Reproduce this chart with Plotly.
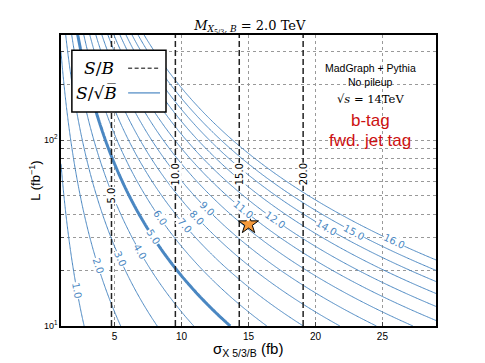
import numpy as np
import plotly.graph_objects as go

# values
sigma_grid = np.linspace(1, 29, 281)            # sigma_X5/3 (fb)
lumi_grid = np.logspace(1, 2.6, 241)            # L (fb^-1)
sig_at_ssb5_l10 = 13.64                         # S/sqrt(B)=5 crosses L=10 fb^-1 here
sig_at_sb5 = 4.77                               # S/B=5 line sits here
ssb_levels = list(range(1, 17))
ssb_thick = 5
sb_levels = [5, 10, 15, 20]
star_sigma = [15.0]
star_lumi = [35.3]

# where the contour labels sit (sigma along each line)
ssb_label_levels = [1, 2, 3, 4, 5, 6, 7, 8, 9, 11, 12, 14, 15, 16]
ssb_label_sigma = [2.19, 3.76, 5.4, 6.89, 7.86, 8.38, 10.24, 11.13, 11.88, 14.6, 16.95, 20.8, 22.9, 25.9]
sb_label_lumi = [50.6, 65.6, 65.6, 65.6]

x_ticks = [5, 10, 15, 20, 25]
y_ticks = [10, 20, 30, 40, 50, 60, 70, 80, 90, 100, 200, 300]
y_text = ["10<sup>1</sup>", "", "", "", "", "", "", "", "", "10<sup>2</sup>", "", ""]

X, Y = np.meshgrid(sigma_grid, lumi_grid)
z_ssb = 5.0 * X / sig_at_ssb5_l10 * np.sqrt(Y / 10.0)
z_sb = 5.0 * X / sig_at_sb5

blue = "#4a87c2"
x_range = [1, 29]
y_range = [1, 2.5645]
plot_w, plot_h = 375, 291

fig = go.Figure()


def ssb(start, end, width):
    return go.Contour(
        x=sigma_grid, y=lumi_grid, z=z_ssb,
        autocontour=False,
        contours=dict(start=start, end=end, size=1, coloring="none", showlabels=False),
        line=dict(color=blue, width=width),
        showscale=False, hoverinfo="skip",
    )


fig.add_trace(ssb(ssb_levels[0], ssb_levels[-1], 1))
fig.add_trace(ssb(ssb_thick, ssb_thick, 3))

fig.add_trace(go.Contour(
    x=sigma_grid, y=lumi_grid, z=z_sb,
    autocontour=False,
    contours=dict(start=sb_levels[0], end=sb_levels[-1], size=5, coloring="none", showlabels=False),
    line=dict(color="#222222", width=1.5, dash="6px,3px"),
    showscale=False, hoverinfo="skip",
))

fig.add_trace(go.Scatter(
    x=star_sigma, y=star_lumi, mode="markers",
    marker=dict(symbol="star", size=15, color="#f59a3c", line=dict(color="black", width=1)),
    showlegend=False, hoverinfo="skip",
))

# contour labels, following the lines
px_per_x = plot_w / (x_range[1] - x_range[0])
px_per_dec = plot_h / (y_range[1] - y_range[0])
for lev, s in zip(ssb_label_levels, ssb_label_sigma):
    L = 10.0 * (lev * sig_at_ssb5_l10 / (5.0 * s)) ** 2
    ang = np.degrees(np.arctan(2 * px_per_dec / (np.log(10) * s * px_per_x)))
    fig.add_annotation(x=s, y=np.log10(L), text=f"{lev:.1f}", showarrow=False,
                       textangle=ang, bgcolor="white", borderpad=0,
                       font=dict(size=10, color=blue, family="DejaVu Sans"))
for lev, L in zip(sb_levels, sb_label_lumi):
    fig.add_annotation(x=sig_at_sb5 * lev / 5.0, y=np.log10(L), text=f"{lev:.1f}", showarrow=False,
                       textangle=-90, bgcolor="white", borderpad=0,
                       font=dict(size=10, color="black", family="DejaVu Sans"))

fig.update_layout(
    width=485, height=363,
    margin=dict(l=61, r=49, t=35, b=37),
    paper_bgcolor="white", plot_bgcolor="white",
    showlegend=False,
    title=dict(text="<i>M</i><sub><i>X</i><sub>5/3</sub><i>, B</i></sub> = 2.0 TeV",
               x=0.515, xanchor="center", y=0.931, yanchor="middle",
               font=dict(family="DejaVu Serif", size=13, color="black")),
)

fig.update_xaxes(
    range=x_range, tickvals=x_ticks, ticks="inside", ticklen=4, automargin=False,
    showgrid=True, gridcolor="#999999", griddash="dot", gridwidth=1,
    showline=True, linecolor="black", linewidth=1.5, mirror=True,
    tickfont=dict(size=10, family="Liberation Sans", color="black"),
    zeroline=False,
)
fig.update_yaxes(
    type="log", range=y_range, tickvals=y_ticks, ticktext=y_text,
    ticks="inside", ticklen=3, automargin=False,
    showgrid=True, gridcolor="#999999", griddash="dot", gridwidth=1,
    showline=True, linecolor="black", linewidth=1.5, mirror=True,
    tickfont=dict(size=9, family="Liberation Sans", color="black"),
    title=dict(text="L (fb<sup>−1</sup>)", standoff=0,
               font=dict(size=13, family="Liberation Sans", color="black")),
)

# x axis title
fig.add_annotation(xref="paper", yref="paper", x=0.499, y=-0.082, showarrow=False,
                   xanchor="center", yanchor="middle", text="σ<sub>X 5/3/B</sub> (fb)",
                   font=dict(size=15, family="Liberation Sans", color="black"))

# legend box
fig.add_shape(type="rect", xref="paper", yref="paper", x0=0.029, x1=0.28, y0=0.735, y1=0.948,
              fillcolor="white", line=dict(color="black", width=1.5), layer="above")
fig.add_shape(type="line", xref="paper", yref="paper", x0=0.179, x1=0.264, y0=0.886, y1=0.886,
              line=dict(color="black", width=1, dash="4px,2.5px"), layer="above")
fig.add_shape(type="line", xref="paper", yref="paper", x0=0.179, x1=0.264, y0=0.801, y1=0.801,
              line=dict(color=blue, width=1.2), layer="above")
fig.add_annotation(xref="paper", yref="paper", x=0.1, y=0.886, showarrow=False,
                   xanchor="center", yanchor="middle",
                   text="<i>S</i>/<i>B</i>", font=dict(family="DejaVu Serif", size=17, color="black"))
fig.add_annotation(xref="paper", yref="paper", x=0.095, y=0.801, showarrow=False,
                   xanchor="center", yanchor="middle",
                   text="<i>S</i>/√<i>B\u0305</i>",
                   font=dict(family="DejaVu Serif", size=17, color="black"))

# info text
info = [
    ("MadGraph + Pythia", 0.887, 10.5, "Liberation Sans", "black"),
    ("No pileup", 0.838, 10.5, "Liberation Sans", "black"),
    ("√<i>s</i> = 14TeV", 0.78, 11.5, "DejaVu Serif", "black"),
    ("b-tag", 0.707, 17, "Liberation Sans", "#cc1111"),
    ("fwd. jet tag", 0.638, 17, "Liberation Sans", "#cc1111"),
]
for txt, yy, sz, fam, col in info:
    fig.add_annotation(xref="paper", yref="paper", x=0.824, y=yy, showarrow=False,
                       xanchor="center", yanchor="middle",
                       text=txt, font=dict(family=fam, size=sz, color=col))

fig.write_html("out.html", config={"displayModeBar": False},
               post_script="document.body.style.margin='0';")
